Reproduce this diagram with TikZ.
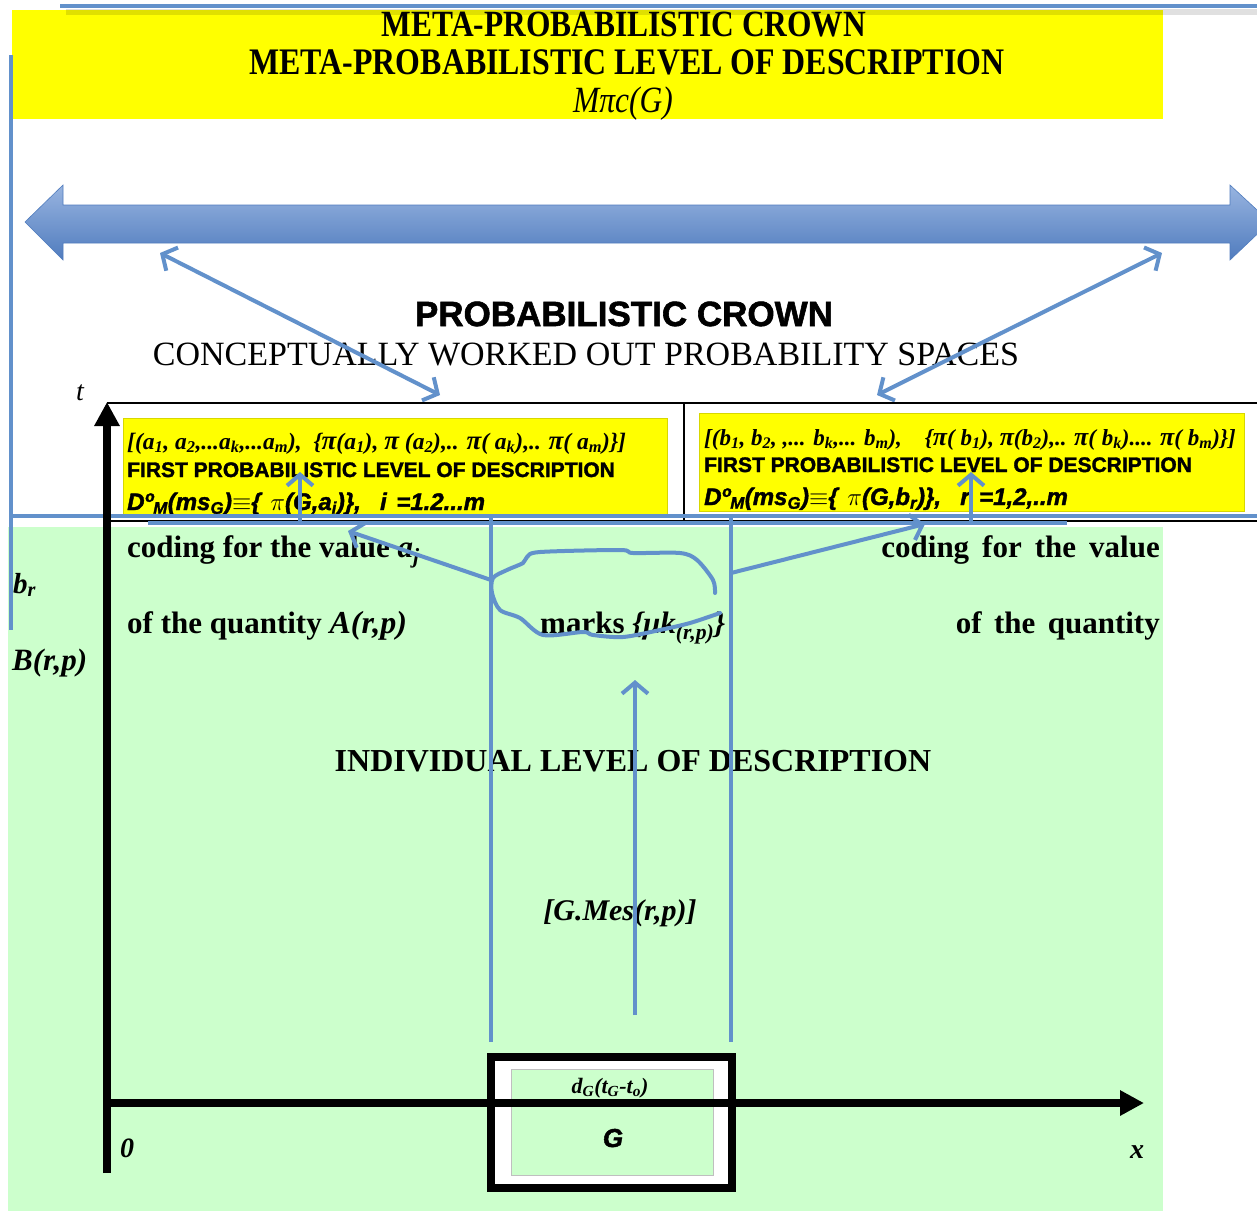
\documentclass[tikz,border=0pt]{standalone}
\usepackage{fontspec}
\setmainfont{Liberation Serif}
\setsansfont{Liberation Sans}
\newfontfamily\condserif[FakeStretch=0.85]{Liberation Serif}
\newfontfamily\heavysans[UprightFont={* Bold}, ItalicFont={* Bold Italic}, UprightFeatures={FakeBold=1.6}, ItalicFeatures={FakeBold=1.6}]{Liberation Sans}
\usetikzlibrary{arrows.meta}
\newcommand{\fsz}[1]{\fontsize{#1}{#1}\selectfont}
\newcommand{\sbs}[1]{\textsubscript{#1}}
\definecolor{ylw}{RGB}{255,255,0}
\definecolor{ylwd}{RGB}{215,215,0}
\definecolor{grn}{RGB}{204,255,204}
\definecolor{bl}{RGB}{98,145,203}
\definecolor{blt}{RGB}{152,180,224}
\definecolor{bld}{RGB}{80,124,190}
\tikzset{
  bline/.style={draw=bl, line width=4pt},
  barb/.tip={Straight Barb[length=11pt,width=26pt]},
  barrow/.style={bline, -barb},
  txt/.style={inner sep=0pt, anchor=base},
  txtw/.style={inner sep=0pt, anchor=base west},
  txte/.style={inner sep=0pt, anchor=base east},
  axis/.style={line width=8pt, -{Triangle[length=24pt,width=24pt]}},
}
\begin{document}
\begin{tikzpicture}[x=1pt,y=-1pt]
\useasboundingbox (0,0) rectangle (1257,1211);
\clip (0,0) rectangle (1257,1211);
% backgrounds
\fill[white] (0,0) rectangle (1257,1211);
\fill[grn] (8,527) rectangle (1163,1211);
\fill[ylw] (12,10) rectangle (1163,119);
% top blue line
\draw[black, opacity=0.12, line width=6pt] (66,12) -- (1257,12);
\draw[bline] (60,6) -- (1257,6);
% title
\node[txt] (t1) at (624,36) {\condserif\fsz{37}\bfseries META-PROBABILISTIC CROWN};
\node[txt] (t2) at (627,74) {\condserif\fsz{37.5}\bfseries META-PROBABILISTIC LEVEL OF DESCRIPTION};
\node[txt] (t3) at (623,112) {\condserif\fsz{37}\itshape Mπc(G)};
% left vertical blue line
\draw[bline] (11,55) -- (11,630);
% big double arrow
\shade[top color=blt, bottom color=bld, draw=bld, line width=0.6pt]
  (25,222) -- (63,185) -- (63,205) -- (1230,205) -- (1230,185) -- (1270,222)
  -- (1230,260) -- (1230,243) -- (63,243) -- (63,260) -- cycle;
% crown texts
\node[txt] (pc) at (624,326) {\heavysans\fsz{35}PROBABILISTIC CROWN};
\node[txt] (cw) at (586,365) {\fsz{34}CONCEPTUALLY WORKED OUT PROBABILITY SPACES};
% diagonal double arrows
\coordinate (la1) at (160,253);
\coordinate (la2) at (440,395);
\coordinate (ra1) at (1162,253);
\coordinate (ra2) at (877,395);
\draw[bline, barb-barb] (la1) -- (la2);
\draw[bline, barb-barb] (ra1) -- (ra2);
% upper frame
\draw[line width=1.5pt] (107,403) -- (1257,403);
\draw[line width=1.5pt] (107,521) -- (1257,521);
\draw[line width=1.5pt] (684,403) -- (684,521);
% yellow boxes
\draw[ylwd, fill=ylw, line width=0.8pt] (123,418) rectangle (667,515);
\draw[ylwd, fill=ylw, line width=0.8pt] (699,413) rectangle (1244,511);
\node[txtw] (la) at (127,449) {\fsz{23.5}\bfseries\itshape [(a\sbs{1}, a\sbs{2},...a\sbs{k},...a\sbs{m}),\ \ \{{\fsz{27}π}(a\sbs{1}), {\fsz{27}π} (a\sbs{2}),.. {\fsz{27}π}( a\sbs{k}),.. {\fsz{27}π}( a\sbs{m})\}]};
\node[txtw] (lb) at (127,477) {\heavysans\fsz{21}FIRST PROBABILISTIC LEVEL OF DESCRIPTION};
\node[txtw] (lc) at (127,510) {\heavysans\itshape\fsz{24}\spaceskip=0.4em Dº\sbs{M}(ms\sbs{G})$\equiv$\{ {\normalfont\fsz{25}$\pi$}(G,a\sbs{i})\},\ \ i =1.2...m};
\node[txtw] (ra) at (704,445) {\fsz{23}\bfseries\itshape [(b\sbs{1}, b\sbs{2}, ,... b\sbs{k},... b\sbs{m}),\quad \{{\fsz{26}π}( b\sbs{1}), {\fsz{26}π}(b\sbs{2}),.. {\fsz{26}π}( b\sbs{k}).... {\fsz{26}π}( b\sbs{m})\}]};
\node[txtw] (rb) at (704,472) {\heavysans\fsz{21}FIRST PROBABILISTIC LEVEL OF DESCRIPTION};
\node[txtw] (rc) at (704,505) {\heavysans\itshape\fsz{24}\spaceskip=0.4em Dº\sbs{M}(ms\sbs{G})$\equiv$\{ {\normalfont\fsz{25}$\pi$}(G,b\sbs{r})\},\ \ r =1,2,..m};
% axis label t
\node[txt] (tl) at (80,400) {\fsz{28}\itshape t};
% blue horizontal lines
\draw[bline] (12,516) -- (1257,516);
\draw[bline] (148,523) -- (1067,523);
% green area texts
\node[txtw] (cl1) at (127,557) {\fsz{31}\bfseries coding for the value \textit{a\sbs{j}}};
\node[txtw] (cl2) at (127,633) {\fsz{31}\bfseries of the quantity \textit{\fsz{32}A(r,p)}};
\node[txte] (cr1) at (1160,557) {\fsz{31}\bfseries\spaceskip=0.42em coding for the value};
\node[txte] (cr2) at (1160,633) {\fsz{31}\bfseries\spaceskip=0.4em of the quantity};
\node[txtw] (mk) at (540,633) {\fsz{31}\bfseries marks \textit{\{μk\sbs{(r,p)}\}}};
\node[txtw] (br) at (13,593) {\fsz{29}\bfseries\itshape b\sbs{r}};
\node[txtw] (Brp) at (12,670) {\fsz{31}\bfseries\itshape B(r,p)};
\node[txt] (ind) at (633,771) {\fsz{32}\bfseries INDIVIDUAL LEVEL OF DESCRIPTION};
\node[txt] (mes) at (620,920) {\fsz{30}\bfseries\itshape [G.Mes(r,p)]};
% vertical blue lines
\draw[bline] (491,516) -- (491,1042);
\draw[bline] (731,516) -- (731,1042);
% blue arrows
\coordinate (ua0) at (635,1015);
\coordinate (ua1) at (635,680);
\draw[barrow] (ua0) -- (ua1);
\coordinate (sl0) at (300,523);
\coordinate (sl1) at (300,472);
\draw[barrow] (sl0) -- (sl1);
\coordinate (sr0) at (971,523);
\coordinate (sr1) at (971,472);
\draw[barrow] (sr0) -- (sr1);
\coordinate (dl0) at (491,580);
\coordinate (dl1) at (348,531);
\draw[barrow] (dl0) -- (dl1);
\coordinate (dr0) at (731,573);
\coordinate (dr1) at (925,524);
\draw[barrow] (dr0) -- (dr1);
% blob
\draw[bline, line cap=round, line join=round] plot[smooth, tension=0.5] coordinates {
 (715,593) (713,580) (697,560) (680,553) (633,553) (620,550) (540,552) (527,557)
 (523,563) (507,570) (493,578) (492,593) (500,610) (520,618) (543,635) (583,632)
 (593,635) (623,637) (660,630) (690,623) (720,613)};
% G box
\draw[line width=8pt, fill=white] (491,1057) rectangle (732,1188);
\draw[fill=grn, draw=black!25, line width=0.6pt] (511,1069) rectangle (713,1175);
\node[txt] (dg) at (610,1093) {\fsz{22}\bfseries\itshape d\sbs{G}(t\sbs{G}-t\sbs{o})};
\node[txt] (G) at (613,1147) {\heavysans\itshape\fsz{26}G};
% axes
\coordinate (o0) at (107,1173);
\coordinate (ot) at (107,402);
\coordinate (ox0) at (104,1103);
\coordinate (ox) at (1144,1103);
\draw[axis] (o0) -- (ot);
\draw[axis] (ox0) -- (ox);
\node[txtw] (zero) at (120,1157) {\fsz{28}\bfseries\itshape 0};
\node[txtw] (xl) at (1130,1158) {\fsz{28}\bfseries\itshape x};
\end{tikzpicture}
\end{document}
